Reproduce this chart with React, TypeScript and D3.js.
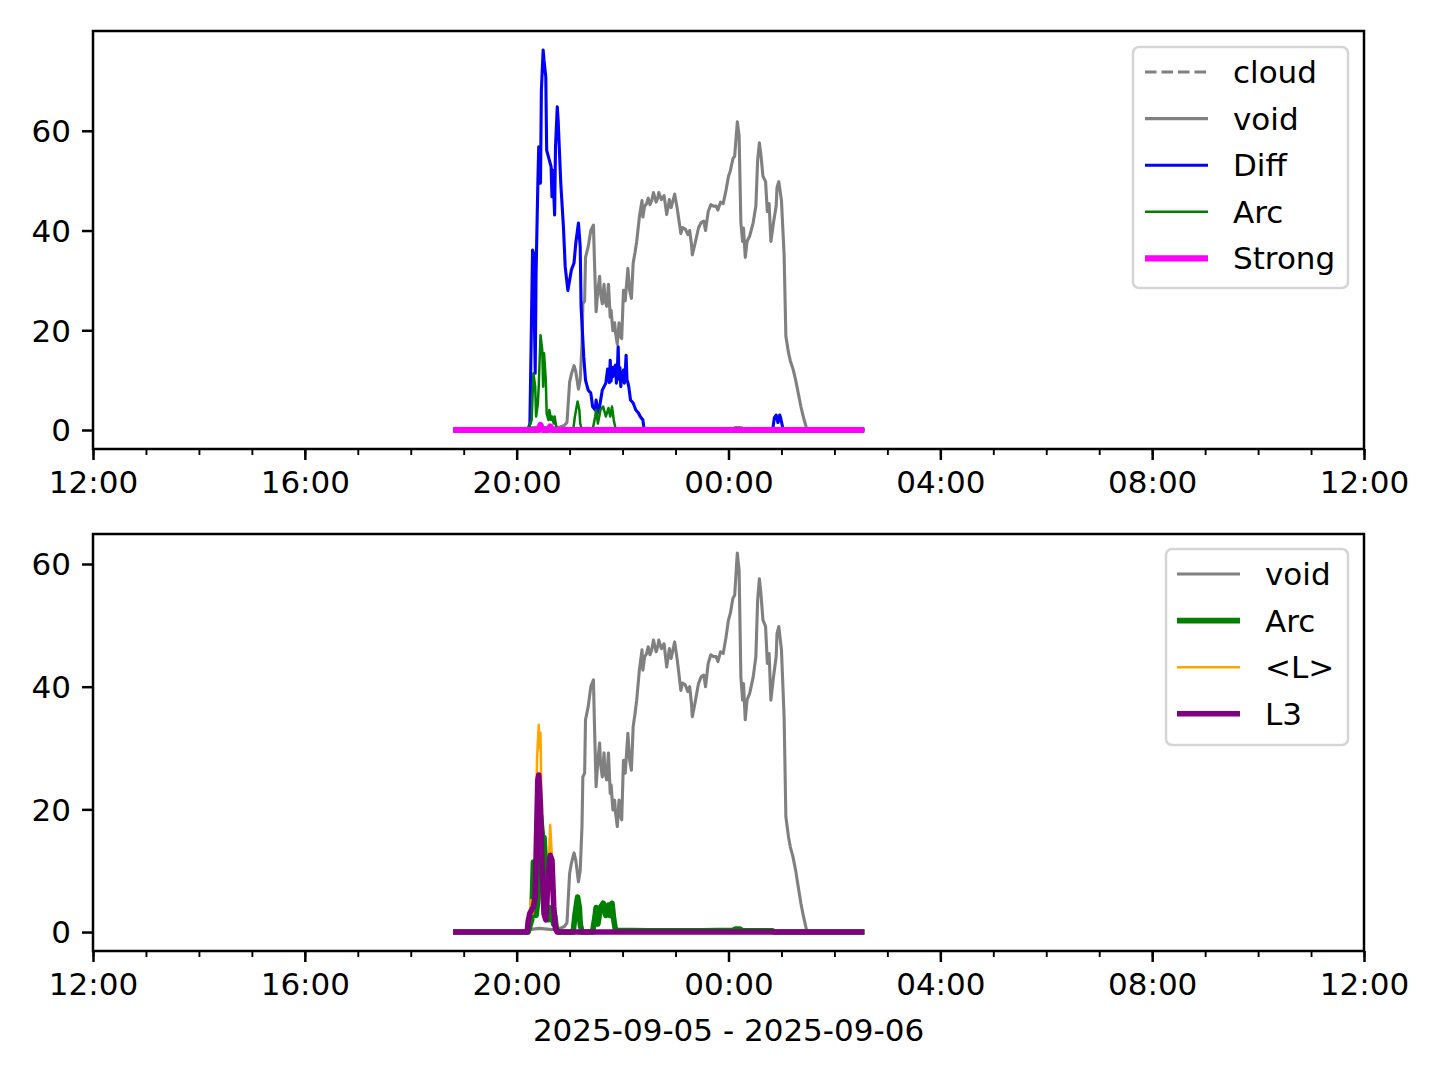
import { useEffect, useRef } from 'react';
import * as d3 from 'd3';

type Pt = [string, number];

// times are HH:MM, >= 12:00 on 2025-09-05, earlier ones on 2025-09-06
const cloudSeries: Pt[] = [['18:48', 0], ['02:34', 0]];

const voidSeries: Pt[] = [
  ['18:48', 0], ['20:09', 0], ['20:13', 0.4], ['20:26', 0.6], ['20:40', 0.4], ['20:49', 0.6], ['20:54', 0.9],
  ['20:57', 1.5], ['21:00', 9.6], ['21:02', 11.2], ['21:05', 12.9], ['21:07', 11.7], ['21:10', 8.2], ['21:12', 10.1],
  ['21:14', 17.2], ['21:15', 25.3], ['21:17', 25.9], ['21:18', 34.6], ['21:21', 36.7], ['21:24', 40.0], ['21:27', 41.1],
  ['21:28', 34.6], ['21:30', 23.7], ['21:32', 28.0], ['21:34', 30.8], ['21:35', 27.5], ['21:37', 25.3], ['21:39', 29.2],
  ['21:40', 26.0], ['21:42', 24.8], ['21:44', 29.2], ['21:46', 22.6], ['21:47', 24.0], ['21:49', 19.9], ['21:51', 21.5],
  ['21:52', 19.5], ['21:54', 17.2], ['21:56', 21.5], ['21:57', 19.2], ['21:59', 18.3], ['22:01', 28.0], ['22:03', 25.9],
  ['22:06', 32.4], ['22:08', 28.0], ['22:10', 26.4], ['22:12', 33.5], ['22:14', 35.5], ['22:16', 37.8], ['22:19', 42.7],
  ['22:22', 46.0], ['22:23', 42.7], ['22:25', 44.9], ['22:27', 45.3], ['22:29', 46.5], ['22:31', 45.2], ['22:33', 46.0],
  ['22:35', 47.6], ['22:38', 45.7], ['22:40', 46.6], ['22:41', 47.6], ['22:44', 46.2], ['22:47', 47.0], ['22:50', 43.2],
  ['22:53', 46.2], ['22:55', 44.6], ['22:59', 47.3], ['23:02', 44.3], ['23:06', 39.4], ['23:08', 40.6], ['23:11', 40.3],
  ['23:14', 39.2], ['23:16', 40.0], ['23:18', 37.3], ['23:19', 35.1], ['23:22', 37.3], ['23:26', 40.5], ['23:29', 41.6],
  ['23:32', 41.9], ['23:34', 40.0], ['23:37', 43.8], ['23:40', 45.2], ['23:43', 44.9], ['23:46', 44.9], ['23:48', 44.1],
  ['23:51', 45.7], ['23:54', 45.4], ['23:57', 47.9], ['00:00', 50.9], ['00:02', 51.9], ['00:05', 54.4], ['00:07', 54.9],
  ['00:10', 61.8], ['00:12', 59.0], ['00:14', 41.6], ['00:16', 37.8], ['00:17', 40.5], ['00:19', 34.6], ['00:21', 37.8],
  ['00:24', 38.9], ['00:28', 41.6], ['00:31', 44.9], ['00:33', 54.1], ['00:35', 57.6], ['00:37', 54.7], ['00:39', 50.9],
  ['00:42', 49.8], ['00:44', 43.8], ['00:46', 45.4], ['00:48', 37.8], ['00:51', 41.6], ['00:54', 44.9], ['00:55', 48.7],
  ['00:57', 49.8], ['01:00', 46.0], ['01:03', 35.1], ['01:05', 18.8], ['01:08', 15.5], ['01:10', 13.9], ['01:13', 12.3],
  ['01:16', 10.1], ['01:19', 7.4], ['01:22', 4.7], ['01:25', 2.5], ['01:28', 0.6], ['01:29', 0], ['02:34', 0],
];

const diffSeries: Pt[] = [
  ['18:48', 0], ['20:13', 0], ['20:15', 1.4], ['20:18', 36.1], ['20:19', 35.5], ['20:21', 11.4], ['20:22', 31.5],
  ['20:24', 49.5], ['20:25', 56.8], ['20:27', 49.5], ['20:28', 68.1], ['20:30', 76.2], ['20:31', 74.1], ['20:33', 70.8],
  ['20:34', 56.1], ['20:37', 54.1], ['20:39', 52.8], ['20:40', 46.8], ['20:41', 52.1], ['20:43', 43.1], ['20:44', 56.8],
  ['20:46', 64.8], ['20:47', 62.1], ['20:50', 49.4], ['20:53', 40.7], ['20:55', 32.7], ['20:58', 28.0], ['20:59', 29.0],
  ['21:02', 32.1], ['21:05', 33.5], ['21:07', 37.5], ['21:10', 41.5], ['21:12', 36.7], ['21:13', 24.7], ['21:16', 14.7],
  ['21:18', 10.0], ['21:21', 8.0], ['21:24', 7.4], ['21:26', 4.7], ['21:29', 4.0], ['21:30', 6.0], ['21:32', 3.4],
  ['21:34', 4.7], ['21:37', 8.0], ['21:39', 8.7], ['21:41', 9.4], ['21:43', 12.2], ['21:44', 11.4], ['21:45', 9.5],
  ['21:46', 14.0], ['21:47', 9.8], ['21:48', 12.5], ['21:49', 10.7], ['21:50', 12.6], ['21:51', 11.4], ['21:52', 13.0],
  ['21:53', 9.4], ['21:54', 11.8], ['21:55', 16.7], ['21:56', 10.2], ['21:57', 12.5], ['21:58', 8.7], ['21:59', 11.5],
  ['22:00', 10.7], ['22:01', 12.0], ['22:02', 9.4], ['22:03', 11.6], ['22:04', 15.0], ['22:05', 10.0], ['22:06', 9.5],
  ['22:07', 8.7], ['22:09', 6.0], ['22:12', 5.4], ['22:15', 4.0], ['22:18', 3.4], ['22:20', 2.7], ['22:23', 2.0],
  ['22:24', 0.7], ['22:25', 0], ['00:14', 0], ['00:15', 0.4], ['00:16', 0], ['00:50', 0], ['00:52', 2.5],
  ['00:54', 3.0], ['00:56', 1.5], ['00:58', 3.0], ['00:59', 2.5], ['01:02', 0], ['02:34', 0],
];

const arcSeries: Pt[] = [
  ['18:48', 0], ['20:13', 0], ['20:17', 2.0], ['20:19', 11.4], ['20:21', 8.7], ['20:22', 2.7], ['20:24', 5.3],
  ['20:25', 8.7], ['20:27', 19.0], ['20:29', 16.0], ['20:30', 8.7], ['20:31', 15.4], ['20:33', 10.0], ['20:34', 3.3],
  ['20:36', 2.0], ['20:37', 4.0], ['20:39', 2.0], ['20:40', 2.7], ['20:42', 1.3], ['20:43', 2.7], ['20:45', 0.5],
  ['20:47', 0], ['21:04', 0], ['21:06', 2.7], ['21:09', 5.7], ['21:11', 4.0], ['21:12', 1.3], ['21:14', 0],
  ['21:26', 0], ['21:29', 2.7], ['21:30', 4.0], ['21:32', 1.3], ['21:35', 4.0], ['21:38', 4.7], ['21:41', 2.7],
  ['21:44', 4.4], ['21:46', 2.7], ['21:48', 4.7], ['21:50', 2.0], ['21:52', 0.3], ['22:30', 0.2], ['23:30', 0.2],
  ['00:05', 0.3], ['00:08', 0.5], ['00:13', 0.5], ['00:16', 0.2], ['00:50', 0.2], ['00:52', 0], ['02:34', 0],
];

const strongSeries: Pt[] = [
  ['18:48', 0], ['20:25', 0], ['20:27', 1.0], ['20:29', 0], ['20:36', 0], ['20:38', 0.7], ['20:40', 0], ['02:34', 0],
];

const lMeanSeries: Pt[] = [
  ['18:48', 0], ['20:12', 0], ['20:14', 1.5], ['20:16', 5.2], ['20:18', 3.0], ['20:21', 5.0], ['20:23', 28.0],
  ['20:25', 33.8], ['20:26', 30.0], ['20:27', 32.5], ['20:29', 12.0], ['20:31', 3.0], ['20:33', 2.0], ['20:36', 10.0],
  ['20:38', 17.5], ['20:40', 12.0], ['20:42', 4.0], ['20:44', 0.5], ['20:46', 0], ['02:34', 0],
];

const l3Series: Pt[] = [
  ['18:48', 0], ['20:12', 0], ['20:13', 1.7], ['20:15', 3.1], ['20:19', 4.1], ['20:21', 5.8], ['20:24', 24.8],
  ['20:25', 25.6], ['20:27', 20.4], ['20:29', 9.6], ['20:31', 3.0], ['20:33', 2.0], ['20:36', 9.6], ['20:38', 12.5],
  ['20:40', 11.7], ['20:42', 4.1], ['20:44', 0.5], ['20:46', 0], ['02:34', 0],
];

const yTicks = [0, 20, 40, 60];
const xLabel = '2025-09-05 - 2025-09-06';

type Series = { label: string; data: Pt[]; color: string; width: number; dash?: string };

const topSeries: Series[] = [
  { label: 'cloud', data: cloudSeries, color: 'gray', width: 3.1, dash: '11.5,5' },
  { label: 'void', data: voidSeries, color: 'gray', width: 3.1 },
  { label: 'Diff', data: diffSeries, color: 'blue', width: 3.1 },
  { label: 'Arc', data: arcSeries, color: 'green', width: 2.5 },
  { label: 'Strong', data: strongSeries, color: 'magenta', width: 6.2 },
];

const bottomSeries: Series[] = [
  { label: 'void', data: voidSeries, color: 'gray', width: 3.1 },
  { label: 'Arc', data: arcSeries, color: 'green', width: 5.6 },
  { label: '<L>', data: lMeanSeries, color: 'orange', width: 2.5 },
  { label: 'L3', data: l3Series, color: 'purple', width: 5.6 },
];

const FONT = "'DejaVu Sans', sans-serif";
const FS = 31;

const parseT = (s: string) => {
  const [h, m] = s.split(':').map(Number);
  return new Date(Date.UTC(2025, 8, h >= 12 ? 5 : 6, h, m));
};

export default function App() {
  const ref = useRef<SVGSVGElement | null>(null);

  useEffect(() => {
    if (!ref.current) return;
    const svg = d3.select(ref.current);
    svg.selectAll('*').remove();

    const left = 93;
    const right = 1364;
    const x = d3
      .scaleUtc()
      .domain([new Date(Date.UTC(2025, 8, 5, 12)), new Date(Date.UTC(2025, 8, 6, 12))])
      .range([left, right]);

    const panels = [
      { top: 31, bottom: 449, series: topSeries, legend: { x: 1133, y: 47, w: 215, h: 241, hx: 1145 } },
      { top: 534, bottom: 951, series: bottomSeries, legend: { x: 1166, y: 549, w: 182, h: 196, hx: 1177 } },
    ];

    panels.forEach((p) => {
      const maxV = d3.max(p.series.flatMap((s) => s.data.map((d) => d[1]))) || 0;
      const y = d3
        .scaleLinear()
        .domain([-0.05 * maxV, maxV * 1.05])
        .range([p.bottom, p.top]);

      const g = svg.append('g');

      // data lines
      const line = d3
        .line<Pt>()
        .x((d) => x(parseT(d[0])))
        .y((d) => y(d[1]));

      p.series.forEach((s) => {
        g.append('path')
          .datum(s.data)
          .attr('d', line)
          .attr('fill', 'none')
          .attr('stroke', s.color)
          .attr('stroke-width', s.width)
          .attr('stroke-linejoin', 'round')
          .attr('stroke-dasharray', s.dash || null);
      });

      // minor x ticks
      g.append('g')
        .attr('transform', `translate(0, ${p.bottom})`)
        .call(d3.axisBottom(x).ticks(d3.utcHour.every(1)).tickSize(6).tickSizeOuter(0).tickFormat(() => ''))
        .call((a) => a.select('.domain').remove())
        .selectAll('line')
        .attr('stroke-width', 1.9);

      // major x ticks
      const xa = g
        .append('g')
        .attr('transform', `translate(0, ${p.bottom})`)
        .call(
          d3
            .axisBottom(x)
            .ticks(d3.utcHour.every(4))
            .tickFormat((d) => d3.utcFormat('%H:%M')(d as Date))
            .tickSize(11)
            .tickPadding(11)
            .tickSizeOuter(0)
        );
      xa.select('.domain').remove();
      xa.selectAll('line').attr('stroke-width', 2.5);
      xa.attr('font-size', FS).attr('font-family', FONT);
      xa.selectAll('text').attr('fill', 'black');

      // y ticks
      const ya = g
        .append('g')
        .attr('transform', `translate(${left}, 0)`)
        .call(d3.axisLeft(y).tickValues(yTicks).tickSize(11).tickPadding(11).tickSizeOuter(0));
      ya.select('.domain').remove();
      ya.selectAll('line').attr('stroke-width', 2.5);
      ya.attr('font-size', FS).attr('font-family', FONT);
      ya.selectAll('text').attr('fill', 'black').attr('dy', '0.35em');

      // frame
      g.append('rect')
        .attr('x', left)
        .attr('y', p.top)
        .attr('width', right - left)
        .attr('height', p.bottom - p.top)
        .attr('fill', 'none')
        .attr('stroke', 'black')
        .attr('stroke-width', 2.5);

      // legend
      const L = p.legend;
      const lg = g.append('g');
      lg.append('rect')
        .attr('x', L.x)
        .attr('y', L.y)
        .attr('width', L.w)
        .attr('height', L.h)
        .attr('rx', 6)
        .attr('fill', 'white')
        .attr('fill-opacity', 0.8)
        .attr('stroke', '#d5d5d5')
        .attr('stroke-width', 2.5);

      p.series.forEach((s, i) => {
        const cy = L.y + 25 + i * 46.6;
        lg.append('line')
          .attr('x1', L.hx)
          .attr('x2', L.hx + 63)
          .attr('y1', cy)
          .attr('y2', cy)
          .attr('stroke', s.color)
          .attr('stroke-width', s.width)
          .attr('stroke-dasharray', s.dash || null);
        lg.append('text')
          .attr('x', L.hx + 88)
          .attr('y', cy + 11)
          .attr('font-size', FS)
          .attr('font-family', FONT)
          .attr('fill', 'black')
          .text(s.label);
      });
    });

    svg
      .append('text')
      .attr('x', (left + right) / 2)
      .attr('y', 1041)
      .attr('text-anchor', 'middle')
      .attr('font-size', FS)
      .attr('font-family', FONT)
      .attr('fill', 'black')
      .text(xLabel);
  }, []);

  return (
    <svg
      ref={ref}
      width={1440}
      height={1080}
      style={{ position: 'absolute', left: 0, top: 0, background: 'white' }}
    />
  );
}
